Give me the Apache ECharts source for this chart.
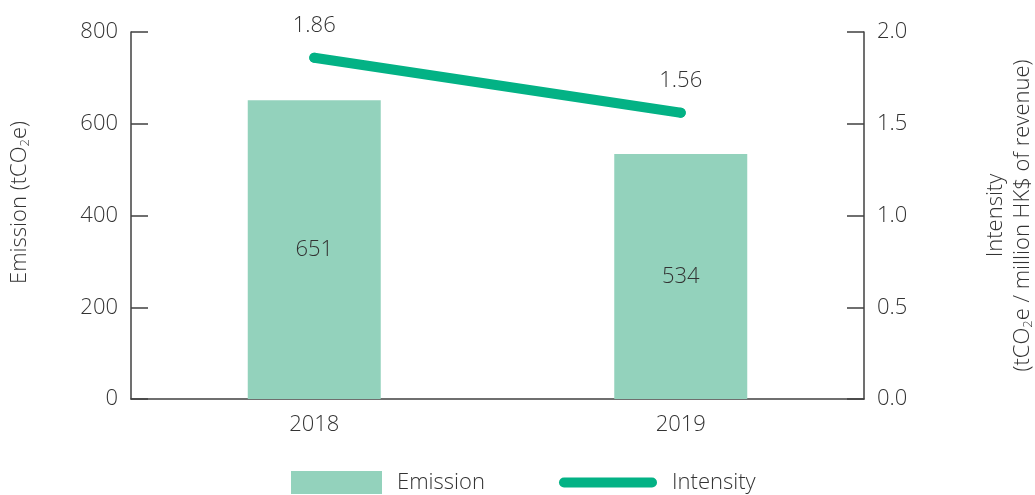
<!DOCTYPE html>
<html>
<head>
<meta charset="utf-8">
<script src="https://cdn.jsdelivr.net/npm/echarts@6/dist/echarts.min.js"></script>
<style>
  html, body { margin: 0; padding: 0; background: #fff; }
  #chart { width: 1035px; height: 495px; }
</style>
</head>
<body>
<div id="chart"></div>
<script>
// Yearly emission (bars, left axis) and intensity (line, right axis)
const years = ['2018', '2019'];
const emission = [651, 534];
const intensity = [1.86, 1.56];
const emissionTicks = [0, 200, 400, 600, 800];
const intensityTicks = [0.0, 0.5, 1.0, 1.5, 2.0];

const FONT = '"Open Sans", "Noto Sans", sans-serif';
const TEXT = '#333333';
const AXIS = '#404040';
const BAR = '#93d2bc';
const LINE = '#03b285';
const FS = 22;

const nameRich = {
  t: { fontSize: FS, fontFamily: FONT, fontWeight: 300, color: TEXT, lineHeight: 27 },
  s: { fontSize: 13, fontFamily: FONT, fontWeight: 300, color: TEXT, padding: [12, 0, 0, 0], lineHeight: 27 }
};

const labelText = { fontSize: FS, fontWeight: 300, color: TEXT, fontFamily: FONT };

const chart = echarts.init(document.getElementById('chart'), null, { renderer: 'canvas' });
chart.setOption({
  animation: false,
  textStyle: { fontFamily: FONT },
  grid: { left: 131, right: 171, top: 32, bottom: 96, containLabel: false, outerBoundsMode: 'none' },
  legend: [
    {
      data: ['Emission'], left: 286, top: 463, icon: 'rect',
      itemWidth: 91, itemHeight: 23,
      textStyle: Object.assign({}, labelText, { lineHeight: 23, padding: [6, 0, 0, 10] })
    },
    {
      data: ['Intensity'], left: 554, top: 463,
      icon: 'path://M5,0 L93,0 A5,5 0 0 1 93,10 L5,10 A5,5 0 0 1 5,0 Z',
      itemWidth: 98, itemHeight: 10,
      textStyle: Object.assign({}, labelText, { lineHeight: 23, padding: [6, 0, 0, 10] })
    }
  ],
  xAxis: {
    type: 'category', data: years,
    axisLine: { lineStyle: { color: AXIS, width: 1.5 } },
    axisTick: { show: false },
    axisLabel: Object.assign({}, labelText, { margin: 15 })
  },
  yAxis: [
    {
      type: 'value', min: emissionTicks[0], max: emissionTicks[emissionTicks.length - 1], interval: 200,
      position: 'left',
      name: '{t|Emission (tCO}{s|2}{t|e)}',
      nameLocation: 'middle', nameRotate: 90, nameGap: 98,
      nameTextStyle: { rich: nameRich, padding: [0, 0, 0, 26] },
      axisLine: { show: true, lineStyle: { color: AXIS, width: 1.5 } },
      axisTick: { show: true, inside: true, length: 17, lineStyle: { color: AXIS, width: 1.5 } },
      splitLine: { show: false },
      axisLabel: Object.assign({}, labelText, { margin: 13 })
    },
    {
      type: 'value', min: intensityTicks[0], max: intensityTicks[intensityTicks.length - 1], interval: 0.5,
      position: 'right',
      name: '{t|Intensity}\n{t|(tCO}{s|2}{t|e / million HK$ of revenue)}',
      nameLocation: 'middle', nameRotate: 90, nameGap: 118,
      nameTextStyle: { rich: nameRich },
      axisLine: { show: true, lineStyle: { color: AXIS, width: 1.5 } },
      axisTick: { show: true, inside: true, length: 17, lineStyle: { color: AXIS, width: 1.5 } },
      splitLine: { show: false },
      axisLabel: Object.assign({}, labelText, { margin: 13, formatter: v => v.toFixed(1) })
    }
  ],
  series: [
    {
      name: 'Emission', type: 'bar', yAxisIndex: 0, data: emission,
      barWidth: 133,
      itemStyle: { color: BAR },
      label: Object.assign({ show: true, position: 'inside' }, labelText)
    },
    {
      name: 'Intensity', type: 'line', yAxisIndex: 1, data: intensity,
      symbol: 'circle', symbolSize: 10,
      itemStyle: { color: LINE },
      lineStyle: { color: LINE, width: 10, cap: 'round' },
      label: Object.assign({ show: true, position: 'top', distance: 16, formatter: p => p.value.toFixed(2) }, labelText)
    }
  ]
});
</script>
</body>
</html>
